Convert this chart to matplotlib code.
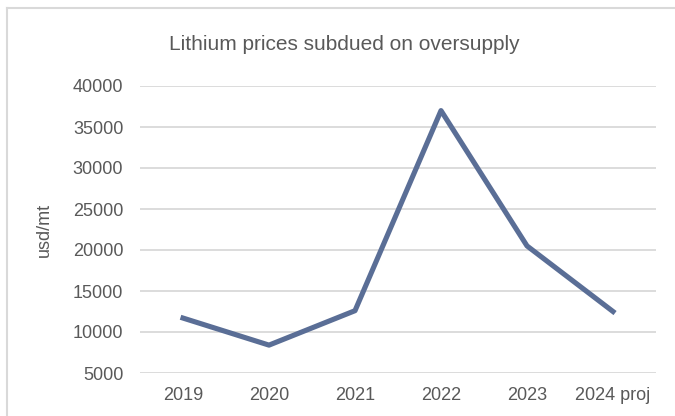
import matplotlib.pyplot as plt
from matplotlib.lines import Line2D

# Chart data
years = ['2019', '2020', '2021', '2022', '2023', '2024 proj']
prices = [11700, 8400, 12600, 37000, 20500, 12500]
yticks = [5000, 10000, 15000, 20000, 25000, 30000, 35000, 40000]

plt.rcParams['font.family'] = ['Liberation Sans', 'DejaVu Sans']
text_color = '#595959'

W, H = 675, 416
fig = plt.figure(figsize=(W / 100, H / 100), dpi=100)

# Axes placed to match the reference plot area
left, right, top, bottom = 140, 656, 86, 373
ax = fig.add_axes([left / W, 1 - bottom / H, (right - left) / W, (bottom - top) / H])

ax.plot(range(len(years)), prices, color='#5a6e96', linewidth=3.7, solid_joinstyle='round')

ax.set_xlim(-0.5, len(years) - 0.5)
ax.set_ylim(5000, 40000)
ax.set_xticks(range(len(years)))
ax.set_xticklabels(years)
ax.set_yticks(yticks)
ax.yaxis.grid(True, color='#d9d9d9', linewidth=1.3)
ax.set_axisbelow(True)
for s in ax.spines.values():
    s.set_visible(False)
ax.tick_params(axis='both', length=0, labelsize=13, colors=text_color)
ax.tick_params(axis='y', pad=12)
ax.tick_params(axis='x', pad=10)

ax.set_ylabel('usd/mt', fontsize=13, color=text_color)
ax.yaxis.set_label_coords((53 - left) / (right - left), 0.5)

fig.text(344 / W, 1 - 45 / H, 'Lithium prices subdued on oversupply',
         ha='center', va='center', fontsize=15, color=text_color)

# Light chart border (top and left edges visible)
fig.add_artist(Line2D([7 / W, 7 / W], [0, 1 - 8 / H], transform=fig.transFigure,
                      color='#d9d9d9', linewidth=1.5))
fig.add_artist(Line2D([7 / W, 1], [1 - 8 / H, 1 - 8 / H], transform=fig.transFigure,
                      color='#d9d9d9', linewidth=1.5))

fig.savefig('out.png', dpi=100)
